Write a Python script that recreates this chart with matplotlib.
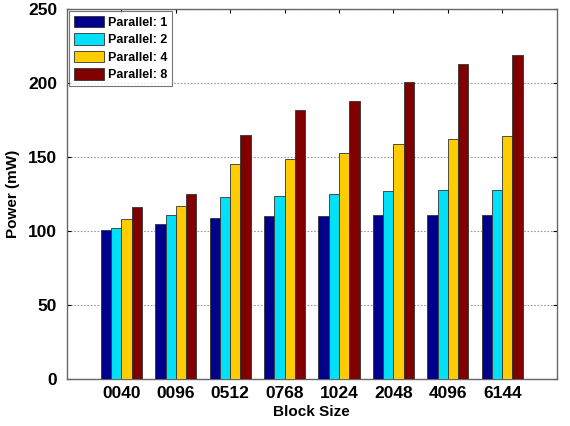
import numpy as np
import matplotlib
matplotlib.use('Agg')
import matplotlib.pyplot as plt

plt.rcParams['font.family'] = ['Liberation Sans', 'DejaVu Sans']
plt.rcParams['font.weight'] = 'bold'

block_sizes = ['0040', '0096', '0512', '0768', '1024', '2048', '4096', '6144']
series_names = ['Parallel: 1', 'Parallel: 2', 'Parallel: 4', 'Parallel: 8']
par1 = [101, 105, 109, 110, 110, 111, 111, 111]
par2 = [102, 111, 123, 124, 125, 127, 128, 128]
par4 = [108, 117, 145, 149, 153, 159, 162, 164]
par8 = [116, 125, 165, 182, 188, 201, 213, 219]
colors = ['#00008C', '#00E0F8', '#FFCC00', '#800000']

fig = plt.figure(figsize=(5.7, 4.26), dpi=100)
ax = fig.add_axes([0.1175, 0.110, 0.859, 0.869])

x = np.arange(1, len(block_sizes) + 1)
w = 0.1885
for i, (vals, name, c) in enumerate(zip([par1, par2, par4, par8], series_names, colors)):
    ax.bar(x + (i - 1.5) * w, vals, w, color=c, edgecolor='#333333',
           linewidth=0.6, label=name, zorder=3)

ax.set_xlim(0, 9)
ax.set_ylim(0, 250)
ax.set_xticks(x)
ax.set_xticklabels(block_sizes, fontsize=12.5, fontweight='bold')
ax.set_yticks([0, 50, 100, 150, 200, 250])
ax.set_yticklabels(['0', '50', '100', '150', '200', '250'], fontsize=12.5, fontweight='bold')
ax.yaxis.grid(True, linestyle=(0, (1.5, 1.5)), color='#999999', linewidth=0.8, zorder=0)
ax.tick_params(direction='in', length=3, top=True, right=True, width=0.8)
ax.tick_params(axis='x', pad=5)
ax.tick_params(axis='y', pad=7)
for s in ax.spines.values():
    s.set_color('#666666')
    s.set_linewidth(1.0)

ax.set_xlabel('Block Size', fontsize=11, fontweight='bold', labelpad=3)
ax.set_ylabel('Power (mW)', fontsize=11, fontweight='bold', labelpad=6)

leg = ax.legend(loc='upper left', fontsize=9, frameon=True, fancybox=False,
                edgecolor='#555555', handlelength=2.4, handleheight=1.05,
                borderaxespad=0.15, labelspacing=0.35, handletextpad=0.3,
                borderpad=0.4)
leg.get_frame().set_linewidth(0.8)
for t in leg.get_texts():
    t.set_fontweight('bold')

fig.savefig('out.png', dpi=100)
